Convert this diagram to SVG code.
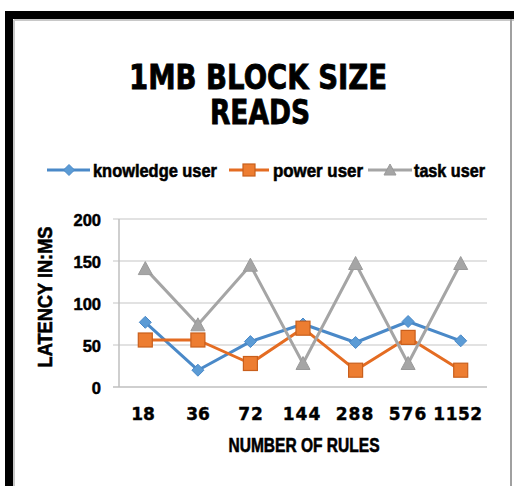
<svg xmlns="http://www.w3.org/2000/svg" width="514" height="486" viewBox="0 0 514 486">
  <style>
    .title { font-family: "DejaVu Sans", Verdana, sans-serif; font-weight: bold; font-size: 31px; fill: #000; stroke: #000; stroke-width: 0.8; }
    .legend { font-family: "Liberation Sans", Arial, sans-serif; font-weight: bold; font-size: 19px; fill: #000; stroke: #000; stroke-width: 0.6; }
    .ytick { font-family: "Liberation Sans", Arial, sans-serif; font-weight: bold; font-size: 16.5px; fill: #000; stroke: #000; stroke-width: 0.5; text-anchor: end; }
    .xtick { font-family: "DejaVu Sans", Verdana, sans-serif; font-weight: bold; font-size: 17px; fill: #000; stroke: #000; stroke-width: 0.4; text-anchor: middle; }
    .axis-title { font-family: "Liberation Sans", Arial, sans-serif; font-weight: bold; font-size: 20px; fill: #000; stroke: #000; stroke-width: 0.6; text-anchor: middle; }
    .grid { stroke: #D9D9D9; stroke-width: 1.5; }
    .axis { stroke: #BFBFBF; stroke-width: 1.5; }
    .s-know { fill: none; stroke: #4A89C8; stroke-width: 3; stroke-linejoin: round; }
    .s-power { fill: none; stroke: #E46C22; stroke-width: 3; stroke-linejoin: round; }
    .s-task { fill: none; stroke: #A5A5A5; stroke-width: 3; stroke-linejoin: round; }
    .m-know { fill: #5B9BD5; stroke: #4A89C8; stroke-width: 1; }
    .m-power { fill: #ED7D31; stroke: #C95F1C; stroke-width: 1.2; }
    .m-task { fill: #A5A5A5; stroke: #9A9A9A; stroke-width: 1; }
  </style>
  <defs>
    <path id="diamond" d="M0,-6 L6,0 L0,6 L-6,0 Z"/>
    <rect id="square" x="-7" y="-7" width="14" height="14"/>
    <path id="triangle" d="M0,-7 L7,6 L-7,6 Z"/>
  </defs>

  <!-- chart frame -->
  <g id="frame">
    <rect x="0" y="0" width="514" height="486" fill="#fff"/>
    <rect x="5" y="11" width="509" height="8" fill="#000"/>
    <rect x="5" y="11" width="8" height="475" fill="#000"/>
    <line x1="14" y1="20" x2="514" y2="20" stroke="#C8C8C8" stroke-width="2"/>
    <line x1="14" y1="20" x2="14" y2="486" stroke="#C8C8C8" stroke-width="2"/>
    <line x1="511" y1="19" x2="511" y2="486" stroke="#A0A0A0" stroke-width="2"/>
  </g>

  <!-- title, scaled vertically for taller caps -->
  <g id="title">
    <text class="title" x="258" y="0" transform="translate(0 89) scale(1 1.08)" text-anchor="middle" textLength="258" lengthAdjust="spacingAndGlyphs">1MB BLOCK SIZE</text>
    <text class="title" x="260" y="0" transform="translate(0 124) scale(1 1.08)" text-anchor="middle" textLength="100" lengthAdjust="spacingAndGlyphs">READS</text>
  </g>

  <!-- legend -->
  <g id="legend">
    <line x1="47" y1="170" x2="90" y2="170" class="s-know"/>
    <path d="M69,164.5 L74.5,170 L69,175.5 L63.5,170 Z" class="m-know"/>
    <text class="legend" x="93" y="177" textLength="124" lengthAdjust="spacingAndGlyphs">knowledge user</text>
    <line x1="229" y1="170" x2="269" y2="170" class="s-power"/>
    <rect x="243" y="164" width="12" height="12" class="m-power"/>
    <text class="legend" x="273" y="177" textLength="90" lengthAdjust="spacingAndGlyphs">power user</text>
    <line x1="368" y1="170" x2="412" y2="170" class="s-task"/>
    <path d="M390,164 L396,175 L384,175 Z" class="m-task"/>
    <text class="legend" x="414" y="177" textLength="71" lengthAdjust="spacingAndGlyphs">task user</text>
  </g>

  <!-- axes and gridlines -->
  <g id="axes">
    <line class="grid" x1="113" y1="219" x2="487" y2="219"/>
    <line class="grid" x1="113" y1="261" x2="487" y2="261"/>
    <line class="grid" x1="113" y1="303" x2="487" y2="303"/>
    <line class="grid" x1="113" y1="345" x2="487" y2="345"/>
    <line class="axis" x1="113" y1="387" x2="487" y2="387"/>
    <line class="axis" x1="119" y1="219" x2="119" y2="387"/>
    <text class="ytick" x="101" y="226">200</text>
    <text class="ytick" x="101" y="268">150</text>
    <text class="ytick" x="101" y="310">100</text>
    <text class="ytick" x="101" y="352">50</text>
    <text class="ytick" x="101" y="394">0</text>
    <text class="xtick" x="143" y="420">18</text>
    <text class="xtick" x="198" y="420">36</text>
    <text class="xtick" x="251" y="420" letter-spacing="1">72</text>
    <text class="xtick" x="302" y="420" letter-spacing="1">144</text>
    <text class="xtick" x="355" y="420" letter-spacing="1">288</text>
    <text class="xtick" x="408" y="420" letter-spacing="1">576</text>
    <text class="xtick" x="458" y="420" letter-spacing="0.5">1152</text>
    <text class="axis-title" x="304" y="452" textLength="151" lengthAdjust="spacingAndGlyphs">NUMBER OF RULES</text>
    <text class="axis-title" x="0" y="0" transform="translate(52 297) rotate(-90)" textLength="141" lengthAdjust="spacingAndGlyphs">LATENCY  IN:MS</text>
  </g>

  <!-- data series -->
  <g id="series-knowledge">
    <polyline class="s-know" points="145.3,322.3 197.9,370.2 250.4,341.6 303,324 355.6,342.5 408.1,321.5 460.7,340.8"/>
    <use href="#diamond" class="m-know" x="145.3" y="322.3"/>
    <use href="#diamond" class="m-know" x="197.9" y="370.2"/>
    <use href="#diamond" class="m-know" x="250.4" y="341.6"/>
    <use href="#diamond" class="m-know" x="303" y="324"/>
    <use href="#diamond" class="m-know" x="355.6" y="342.5"/>
    <use href="#diamond" class="m-know" x="408.1" y="321.5"/>
    <use href="#diamond" class="m-know" x="460.7" y="340.8"/>
  </g>
  <g id="series-power">
    <polyline class="s-power" points="145.3,340 197.9,340 250.4,363.5 303,328.2 355.6,370.2 408.1,337.4 460.7,370.2"/>
    <use href="#square" class="m-power" x="145.3" y="340"/>
    <use href="#square" class="m-power" x="197.9" y="340"/>
    <use href="#square" class="m-power" x="250.4" y="363.5"/>
    <use href="#square" class="m-power" x="303" y="328.2"/>
    <use href="#square" class="m-power" x="355.6" y="370.2"/>
    <use href="#square" class="m-power" x="408.1" y="337.4"/>
    <use href="#square" class="m-power" x="460.7" y="370.2"/>
  </g>
  <g id="series-task">
    <polyline class="s-task" points="145.3,268.6 197.9,324.8 250.4,265.2 303,363.5 355.6,263.5 408.1,363.5 460.7,263.5"/>
    <use href="#triangle" class="m-task" x="145.3" y="268.6"/>
    <use href="#triangle" class="m-task" x="197.9" y="324.8"/>
    <use href="#triangle" class="m-task" x="250.4" y="265.2"/>
    <use href="#triangle" class="m-task" x="303" y="363.5"/>
    <use href="#triangle" class="m-task" x="355.6" y="263.5"/>
    <use href="#triangle" class="m-task" x="408.1" y="363.5"/>
    <use href="#triangle" class="m-task" x="460.7" y="263.5"/>
  </g>
</svg>
